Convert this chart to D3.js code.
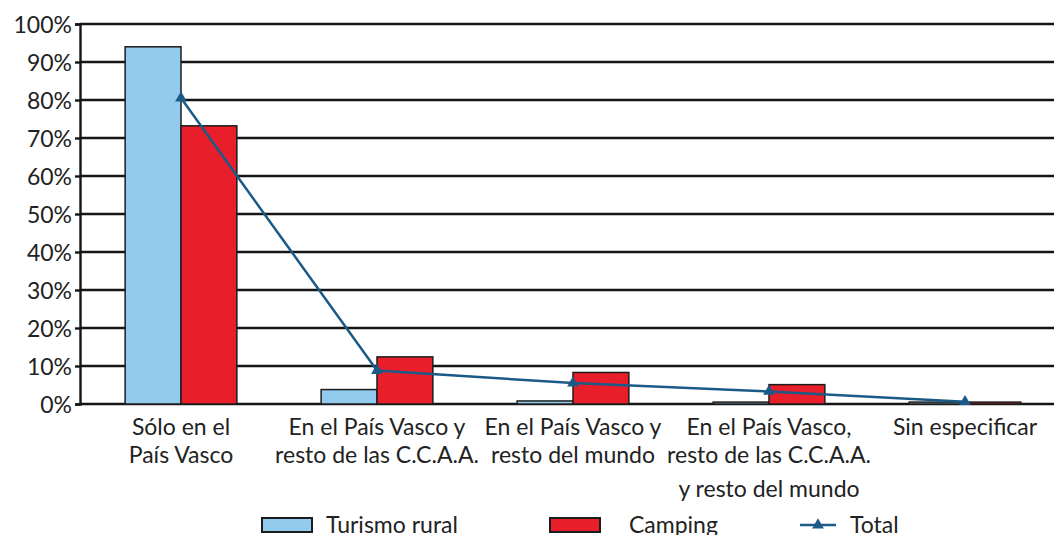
<!DOCTYPE html>
<html>
<head>
<meta charset="utf-8">
<script src="https://cdn.jsdelivr.net/npm/d3@7"></script>
<style>
  body { margin: 0; background: #fff; }
  svg text { font-family: Lato, "Open Sans", sans-serif; fill: #222; }
</style>
</head>
<body>
<svg id="chart" width="1054" height="535"></svg>
<script>
// categories, one label line per entry
const categories = [
    ["Sólo en el", "País Vasco"],
    ["En el País Vasco y", "resto de las C.C.A.A."],
    ["En el País Vasco y", "resto del mundo"],
    ["En el País Vasco,", "resto de las C.C.A.A.", "y resto del mundo"],
    ["Sin especificar"]
];
const seriesNames = ["Turismo rural", "Camping"];
const turismoRural = [94, 3.8, 0.8, 0.5, 0.5];
const camping = [73.2, 12.4, 8.3, 5.1, 0.5];
const total = [80.5, 8.8, 5.5, 3.3, 0.6];
const yTicks = [0, 10, 20, 30, 40, 50, 60, 70, 80, 90, 100];

const colors = { "Turismo rural": "#93cbee", "Camping": "#e81e2a" };
const lineColor = "#1b5a87";
const fontSize = 23;

const svg = d3.select("#chart");
const margin = { top: 24, left: 80, bottom: 131 };
const height = 535 - margin.top - margin.bottom;

const keys = categories.map(function(c, i) { return "c" + i; });

const x = d3.scaleBand()
    .domain(keys)
    .range([83, 1063])
    .paddingInner(0.43)
    .paddingOuter(0.215);

const xs = d3.scaleBand()
    .domain(seriesNames)
    .range([0, x.bandwidth()]);

const y = d3.scaleLinear()
    .domain([0, 100])
    .range([margin.top + height, margin.top]);

// gridlines
svg.append("g")
    .selectAll("line")
    .data(yTicks)
    .join("line")
    .attr("x1", margin.left)
    .attr("x2", 1054)
    .attr("y1", function(d) { return y(d); })
    .attr("y2", function(d) { return y(d); })
    .attr("stroke", "#151515")
    .attr("stroke-width", 2.4);

// y axis
const yAxis = svg.append("g")
    .attr("transform", "translate(" + margin.left + ",0)")
    .call(d3.axisLeft(y).tickValues(yTicks).tickSize(5).tickPadding(3)
        .tickFormat(function(d) { return d + "%"; }));
yAxis.select(".domain").attr("stroke", "#151515").attr("stroke-width", 2.4);
yAxis.selectAll(".tick line").attr("stroke", "#151515").attr("stroke-width", 2.4);
yAxis.selectAll("text")
    .attr("font-size", fontSize)
    .attr("font-family", "Lato, sans-serif")
    .attr("fill", "#222")
    .attr("dy", "0.36em");

// bars
const barData = [];
keys.forEach(function(k, i) {
    barData.push({ key: k, series: "Turismo rural", value: turismoRural[i] });
    barData.push({ key: k, series: "Camping", value: camping[i] });
});

svg.append("g")
    .selectAll("rect")
    .data(barData)
    .join("rect")
    .attr("x", function(d) { return x(d.key) + xs(d.series); })
    .attr("y", function(d) { return y(d.value); })
    .attr("width", xs.bandwidth())
    .attr("height", function(d) { return y(0) - y(d.value); })
    .attr("fill", function(d) { return colors[d.series]; })
    .attr("stroke", "#1c1c1c")
    .attr("stroke-width", 1.5);

// total line
const line = d3.line()
    .x(function(d, i) { return x(keys[i]) + x.bandwidth() / 2; })
    .y(function(d) { return y(d); });

svg.append("path")
    .datum(total)
    .attr("fill", "none")
    .attr("stroke", lineColor)
    .attr("stroke-width", 2.5)
    .attr("d", line);

const tri = d3.symbol().type(d3.symbolTriangle).size(60);
svg.append("g")
    .selectAll("path")
    .data(total)
    .join("path")
    .attr("transform", function(d, i) {
        return "translate(" + (x(keys[i]) + x.bandwidth() / 2) + "," + y(d) + ")";
    })
    .attr("d", tri)
    .attr("fill", lineColor);

// category labels
const lineY = [427, 455, 489];
const labels = svg.append("g")
    .selectAll("text")
    .data(categories)
    .join("text")
    .attr("text-anchor", "middle")
    .attr("font-size", fontSize)
    .attr("x", function(d, i) { return x(keys[i]) + x.bandwidth() / 2; });
labels.selectAll("tspan")
    .data(function(d) { return d; })
    .join("tspan")
    .attr("x", function() { return d3.select(this.parentNode).attr("x"); })
    .attr("y", function(d, j) { return lineY[j]; })
    .attr("dy", "0.35em")
    .text(function(d) { return d; });

// legend
const legY = 525;
const legend = svg.append("g");
const legItems = [
    { name: "Turismo rural", x: 262, tx: 326 },
    { name: "Camping", x: 550, tx: 629 }
];
legItems.forEach(function(it) {
    legend.append("rect")
        .attr("x", it.x).attr("y", legY - 7)
        .attr("width", 50).attr("height", 14)
        .attr("fill", colors[it.name])
        .attr("stroke", "#1c1c1c").attr("stroke-width", 2);
    legend.append("text")
        .attr("x", it.tx).attr("y", legY)
        .attr("dy", "0.35em").attr("font-size", fontSize)
        .text(it.name);
});
legend.append("line")
    .attr("x1", 800).attr("x2", 836)
    .attr("y1", legY).attr("y2", legY)
    .attr("stroke", lineColor).attr("stroke-width", 2.5);
legend.append("path")
    .attr("transform", "translate(818," + legY + ")")
    .attr("d", tri)
    .attr("fill", lineColor);
legend.append("text")
    .attr("x", 850).attr("y", legY)
    .attr("dy", "0.35em").attr("font-size", fontSize)
    .text("Total");
</script>
</body>
</html>
